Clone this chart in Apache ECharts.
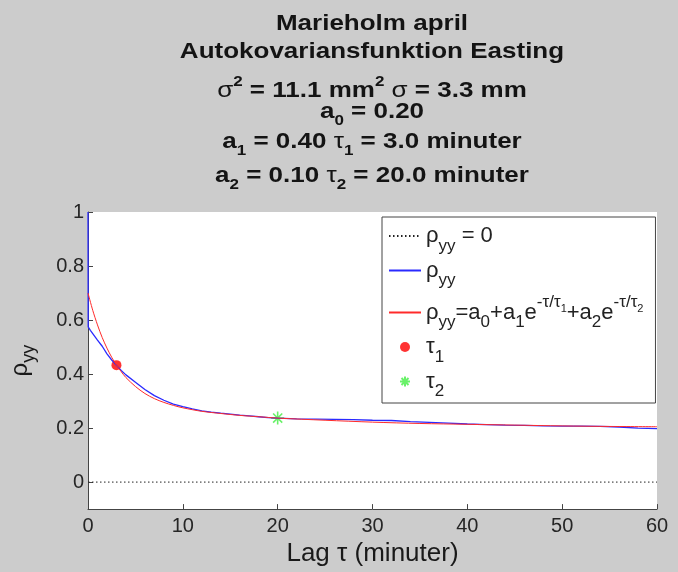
<!DOCTYPE html>
<html>
<head>
<meta charset="utf-8">
<script src="https://cdn.jsdelivr.net/npm/echarts@6/dist/echarts.min.js"></script>
<style>
  html, body { margin: 0; padding: 0; background: #cccccc; }
  #chart { width: 678px; height: 572px; }
</style>
</head>
<body>
<div id="chart"></div>
<script>
// Measured autocovariance (normalised), lag in minutes
const lagMeasured = [0, 0.02, 0.25, 0.5, 0.75, 1, 1.5, 2, 2.5, 3, 3.5, 4, 5, 6, 7, 8, 9, 10,
  11, 12, 13, 14, 15, 16, 17, 18, 19, 20, 22, 24, 26, 28, 30, 32, 34, 36, 38, 40,
  42, 44, 46, 48, 50, 52, 54, 56, 58, 60];
const rhoMeasured = [1.0, 0.575, 0.562, 0.550, 0.538, 0.526, 0.503, 0.475, 0.452, 0.432, 0.413, 0.397,
  0.370, 0.343, 0.320, 0.303, 0.289, 0.279, 0.271, 0.264, 0.259, 0.255, 0.252, 0.248, 0.245,
  0.242, 0.239, 0.237, 0.234, 0.233, 0.232, 0.231, 0.229, 0.228, 0.224, 0.221, 0.218, 0.215,
  0.213, 0.211, 0.210, 0.208, 0.207, 0.207, 0.206, 0.204, 0.200, 0.198];

// Fitted model curve
const lagFit = [0, 0.5, 1, 1.5, 2, 2.5, 3, 3.5, 4, 5, 6, 7, 8, 9, 10, 12, 14, 16, 18, 20,
  25, 30, 35, 40, 45, 50, 55, 60];
const rhoFit = [0.700, 0.636, 0.582, 0.535, 0.496, 0.462, 0.433, 0.409, 0.387, 0.354, 0.328,
  0.309, 0.295, 0.284, 0.275, 0.262, 0.254, 0.247, 0.242, 0.237, 0.229, 0.222, 0.217,
  0.214, 0.211, 0.208, 0.206, 0.205];

// Time constants marked on the fitted curve
const tau1Mark = [3.0, 0.433];
const tau2Mark = [20.0, 0.237];

// Reference line rho = 0
const zeroLag = [0, 60];
const zeroRho = [0, 0];

const xTicks = [0, 10, 20, 30, 40, 50, 60];
const yTicks = [0, 0.2, 0.4, 0.6, 0.8, 1];

const FONT = '"Liberation Sans", Arial, Helvetica, sans-serif';
const zip = (a, b) => a.map((v, i) => [v, b[i]]);

function tok(size, weight, color, extra) {
  return Object.assign({
    fontFamily: FONT, fontSize: size, fontWeight: weight,
    fill: color || '#141414', color: color || '#141414'
  }, extra || {});
}

// Title block rich styles
const titleRich = {
  b: tok(26, 'bold'),
  g: tok(26, 'normal'),
  sup: tok(17, 'bold', null, { padding: [0, 0, 20, 0] }),
  sub: tok(17, 'bold', null, { padding: [22, 0, 0, 0] })
};
const titleLines = [
  { y: 23.5, text: '{b|Marieholm april}' },
  { y: 52, text: '{b|Autokovariansfunktion Easting}' },
  { y: 90.5, text: '{g|σ}{sup|2}{b| = 11.1 mm}{sup|2}{g| σ}{b| = 3.3 mm}' },
  { y: 111.5, text: '{b|a}{sub|0}{b| = 0.20}' },
  { y: 142, text: '{b|a}{sub|1}{b| = 0.40 }{g|τ}{sub|1}{b| = 3.0 minuter}' },
  { y: 176, text: '{b|a}{sub|2}{b| = 0.10 }{g|τ}{sub|2}{b| = 20.0 minuter}' }
];

const legendText = {
  zero: '{r|ρ}{sub|yy}{r| = 0}',
  meas: '{r|ρ}{sub|yy}',
  fit: '{r|ρ}{sub|yy}{r|=a}{sub|0}{r|+a}{sub|1}{r|e}{sup|-τ/τ}{ss|1}{r|+a}{sub|2}{r|e}{sup|-τ/τ}{ss|2}',
  tau1: '{r|τ}{sub|1}',
  tau2: '{r|τ}{sub|2}'
};
const LC = '#222222';
const ROW = 37;
const legendRich = {
  r: tok(22, 'normal', LC, { lineHeight: ROW }),
  sub: tok(17, 'normal', LC, { lineHeight: ROW, verticalAlign: 'bottom' }),
  sup: tok(17, 'normal', LC, { lineHeight: ROW, verticalAlign: 'top' }),
  ss: tok(11, 'normal', LC, { lineHeight: ROW, padding: [0, 0, 8, 0] })
};

const asterisk = 'path://M0,10L20,10M10,0L10,20M3,3L17,17M17,3L3,17';
const hiddenSymbol = { opacity: 0 };

const chart = echarts.init(document.getElementById('chart'), null, { renderer: 'canvas' });
chart.setOption({
  backgroundColor: '#cccccc',
  animation: false,
  grid: {
    left: 88, right: 21, top: 212, bottom: 55,
    show: true, backgroundColor: '#ffffff', borderWidth: 0
  },
  graphic: titleLines.map(l => ({
    type: 'text', x: 372, y: l.y, scaleY: 0.86, silent: true,
    style: {
      text: l.text, rich: titleRich, align: 'center', verticalAlign: 'middle',
      fontFamily: FONT, fontSize: 26, fontWeight: 'bold', fill: '#141414'
    }
  })),
  xAxis: {
    type: 'value', min: 0, max: 60, interval: 10,
    name: 'Lag τ (minuter)', nameLocation: 'middle', nameGap: 25,
    nameTextStyle: { fontFamily: FONT, fontSize: 26, color: '#1a1a1a' },
    axisLine: { show: true, onZero: false, lineStyle: { color: '#444', width: 1 } },
    axisTick: { show: true, inside: true, length: 5, lineStyle: { color: '#444' } },
    axisLabel: {
      fontFamily: FONT, fontSize: 20, color: '#262626', margin: 7,
      customValues: xTicks
    },
    splitLine: { show: false }
  },
  yAxis: {
    type: 'value', min: -0.1, max: 1,
    name: '{r|ρ}{sub|yy}', nameLocation: 'middle', nameGap: 50, nameRotate: 90,
    nameTextStyle: {
      rich: {
        r: tok(24, 'normal', '#1a1a1a'),
        sub: tok(18, 'normal', '#1a1a1a', { padding: [18, 0, 0, 0] })
      }
    },
    axisLine: { show: true, onZero: false, lineStyle: { color: '#444', width: 1 } },
    axisTick: { show: true, inside: true, length: 5, lineStyle: { color: '#444' }, customValues: yTicks },
    axisLabel: {
      fontFamily: FONT, fontSize: 20, color: '#262626', margin: 4,
      customValues: yTicks
    },
    splitLine: { show: false }
  },
  legend: {
    orient: 'vertical', left: 382, top: 217,
    padding: [8, 12, 3, 6], itemGap: 5, itemWidth: 32, itemHeight: 10,
    borderColor: '#444', borderWidth: 1, backgroundColor: '#ffffff',
    selectedMode: false,
    data: [
      { name: 'zero', itemStyle: hiddenSymbol },
      { name: 'meas', itemStyle: hiddenSymbol },
      { name: 'fit', itemStyle: hiddenSymbol },
      { name: 'tau1' },
      { name: 'tau2' }
    ],
    formatter: n => legendText[n],
    textStyle: { rich: legendRich }
  },
  series: [
    {
      name: 'zero', type: 'line', data: zip(zeroLag, zeroRho), symbol: 'none',
      lineStyle: { color: '#222', width: 1, type: [1.5, 2.5] }, silent: true
    },
    {
      name: 'meas', type: 'line', data: zip(lagMeasured, rhoMeasured), symbol: 'none',
      lineStyle: { color: '#2a2aff', width: 1.3 }, silent: true
    },
    {
      name: 'fit', type: 'line', data: zip(lagFit, rhoFit), symbol: 'none', smooth: 0.3,
      lineStyle: { color: '#ff2a2a', width: 1 }, silent: true
    },
    {
      name: 'tau1', type: 'scatter', data: [tau1Mark], symbol: 'circle', symbolSize: 10,
      itemStyle: { color: '#ff0000' }, silent: true
    },
    {
      name: 'tau2', type: 'scatter', data: [tau2Mark], symbol: asterisk, symbolSize: 13,
      itemStyle: { color: 'rgba(0,0,0,0)', borderColor: '#44ee44', borderWidth: 1.6 }, silent: true
    }
  ]
});
</script>
</body>
</html>
